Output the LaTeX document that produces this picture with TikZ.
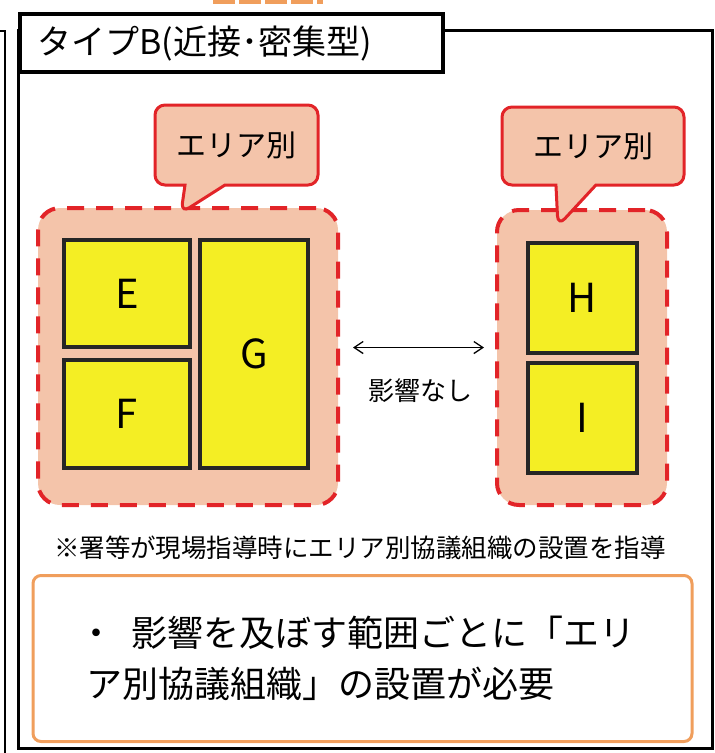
\documentclass[tikz,border=0pt]{standalone}
\usepackage{fontspec}
\setmainfont{Noto Sans CJK JP}
\usetikzlibrary{arrows.meta, positioning, shapes.callouts}

\definecolor{bldgyellow}{RGB}{244,238,36}
\definecolor{areafill}{RGB}{244,196,170}
\definecolor{areared}{RGB}{226,36,40}
\definecolor{boxorange}{RGB}{240,158,92}

\tikzset{
  bldg/.style={draw=black!85, line width=3.5pt, fill=bldgyellow,
    font=\fontsize{40}{40}\selectfont, inner sep=0pt},
  areagrp/.style={draw=areared, line width=4pt, dash pattern=on 17pt off 12pt,
    fill=areafill, rounded corners=22pt, inner sep=0pt},
  areatag/.style={rectangle callout, draw=areared, line width=3pt, fill=areafill,
    rounded corners=10pt, callout pointer width=40pt,
    font=\fontsize{30}{30}\selectfont, inner sep=0pt},
}

\begin{document}
\begin{tikzpicture}[x=1pt, y=-1pt]
\useasboundingbox (0,0) rectangle (715,753);

% cut-off neighbours
\draw[boxorange, line width=5pt, dash pattern=on 22pt off 4pt] (213,1.5) -- (323,1.5);
\draw[line width=2.5pt] (0,31) -| (5,753);

% frame and title
\draw[line width=3pt] (18,30) rectangle (712,748);
\node[draw, line width=3.5pt, fill=white, minimum width=423pt, minimum height=58pt, inner sep=0pt] (title) at (231.5,43) {};
\node[anchor=west, font=\fontsize{34}{34}\selectfont] (titletext) at (34,44) {タイプB(近接･密集型)};

% area groups
\node[areagrp, minimum width=300pt, minimum height=297pt] (grpL) at (188,356.5) {};
\node[areagrp, minimum width=170pt, minimum height=295pt] (grpR) at (582,357.5) {};

% buildings
\foreach \n/\x/\y/\w/\h in {E/127/293.5/126/107, F/127/414/126/108, G/254/354/108/228,
                            H/582.5/298/109/110, I/582.5/418/109/110}
  \node[bldg, minimum width=\w pt, minimum height=\h pt] (\n) at (\x,\y) {\n};

% callouts
\coordinate (tipL) at (181,213);
\coordinate (tipR) at (558,226);
\node[areatag, minimum width=163pt, minimum height=80pt, callout absolute pointer={(tipL)}] (tagL) at (236.5,145) {エリア別};
\node[areatag, minimum width=182pt, minimum height=78pt, callout absolute pointer={(tipR)}] (tagR) at (593,146) {エリア別};

% no effect between groups
\draw[{Straight Barb[length=9pt,width=12pt]}-{Straight Barb[length=9pt,width=12pt]}, line width=1.3pt,
  shorten <=13pt, shorten >=11pt] ([yshift=9pt]grpL.east) -- ([yshift=9pt]grpL.east -| grpR.west);
\node[font=\fontsize{26}{26}\selectfont] (noeffect) at (420,391) {影響なし};

\node[font=\fontsize{25.5}{25.5}\selectfont] (note) at (360,548) {※署等が現場指導時にエリア別協議組織の設置を指導};

% summary
\node[draw=boxorange, line width=3pt, rounded corners=8pt, fill=white, minimum width=659pt, minimum height=166pt] (sumbox) at (362.5,658.5) {};
\node[anchor=north west, align=left, font=\fontsize{36}{51}\selectfont, inner sep=0pt] (sumtext) at (86,616)
  {\hspace*{-8pt}・\hspace{17pt}影響を及ぼす範囲ごとに「エリ\\ア別協議組織」の設置が必要};

\end{tikzpicture}
\end{document}
